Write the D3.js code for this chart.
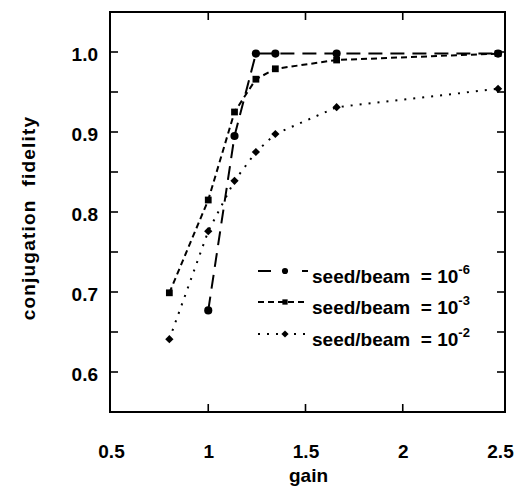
<!DOCTYPE html>
<html>
<head>
<meta charset="utf-8">
<script src="https://cdn.jsdelivr.net/npm/d3@7"></script>
<style>
  html, body { margin: 0; padding: 0; background: #fff; }
  svg { display: block; }
  text { font-family: "Liberation Sans", Arial, Helvetica, sans-serif; font-weight: bold; fill: #000; }
</style>
</head>
<body>
<svg id="chart" width="531" height="489"></svg>
<script>
// ---- data ----
const gain6 = [1.0, 1.135, 1.245, 1.345, 1.66, 2.49];
const fid6  = [0.677, 0.895, 0.998, 0.998, 0.998, 0.998];

const gain3 = [0.8, 1.0, 1.135, 1.245, 1.345, 1.66, 2.49];
const fid3  = [0.699, 0.815, 0.925, 0.966, 0.979, 0.99, 0.998];

const gain2 = [0.8, 1.0, 1.135, 1.245, 1.345, 1.66, 2.49];
const fid2  = [0.641, 0.776, 0.839, 0.875, 0.8975, 0.931, 0.954];

const xTicks = [0.5, 1, 1.5, 2, 2.5];
const xTickLabels = ["0.5", "1", "1.5", "2", "2.5"];
const yTicks = [0.6, 0.7, 0.8, 0.9, 1.0];
const yTickLabels = ["0.6", "0.7", "0.8", "0.9", "1.0"];
const yMinorTicks = [0.6, 0.65, 0.7, 0.75, 0.8, 0.85, 0.9, 0.95, 1.0];
const xInnerTicks = [1, 1.5, 2];
const legendLabels = ["seed/beam  = 10", "seed/beam  = 10", "seed/beam  = 10"];
const legendExps = ["-6", "-3", "-2"];
const xLabel = "gain";
const yLabel = "conjugation  fidelity";

// ---- layout ----
const svg = d3.select("#chart");
const frame = {left: 110, right: 505, top: 12, bottom: 412};
const x = d3.scaleLinear().domain([0.5, 2.5]).range([111, 500]);
const y = d3.scaleLinear().domain([0.55, 1.05]).range([frame.bottom, frame.top]);

// frame
svg.append("rect")
  .attr("x", frame.left).attr("y", frame.top)
  .attr("width", frame.right - frame.left).attr("height", frame.bottom - frame.top)
  .attr("fill", "none").attr("stroke", "#000").attr("stroke-width", 2);

const tl = 8;
const tg = svg.append("g").attr("stroke", "#000").attr("stroke-width", 1.6);
yMinorTicks.forEach(v => {
  tg.append("line").attr("x1", frame.left).attr("x2", frame.left + tl).attr("y1", y(v)).attr("y2", y(v));
  tg.append("line").attr("x1", frame.right).attr("x2", frame.right - tl).attr("y1", y(v)).attr("y2", y(v));
});
xInnerTicks.forEach(v => {
  tg.append("line").attr("x1", x(v)).attr("x2", x(v)).attr("y1", frame.bottom).attr("y2", frame.bottom - tl);
  tg.append("line").attr("x1", x(v)).attr("x2", x(v)).attr("y1", frame.top).attr("y2", frame.top + tl);
});

const xAxis = d3.axisBottom(x).tickValues(xTicks).tickFormat((d, i) => xTickLabels[i]).tickSize(0).tickPadding(0);
const gx = svg.append("g").attr("transform", `translate(0,${frame.bottom})`).call(xAxis);
gx.select(".domain").remove();
gx.selectAll("text").attr("font-size", 19).attr("font-family", null).attr("dy", null).attr("y", 46);

const yAxis = d3.axisLeft(y).tickValues(yTicks).tickFormat((d, i) => yTickLabels[i]).tickSize(0).tickPadding(0);
const gy = svg.append("g").attr("transform", `translate(${frame.left},0)`).call(yAxis);
gy.select(".domain").remove();
gy.selectAll("text").attr("font-size", 19).attr("font-family", null).attr("x", -12).attr("dy", "0.45em");

svg.append("text").attr("x", x(1.5) + 3).attr("y", 482).attr("text-anchor", "middle")
  .attr("font-size", 19).text(xLabel);
svg.append("text").attr("transform", "translate(35,218) rotate(-90)").attr("text-anchor", "middle")
  .attr("font-size", 19).attr("letter-spacing", 1.2).style("white-space", "pre").text(yLabel);

// series
const diamond = {draw(ctx, size) { const r = Math.sqrt(size / 2); ctx.moveTo(0, -r); ctx.lineTo(r, 0); ctx.lineTo(0, r); ctx.lineTo(-r, 0); ctx.closePath(); }};
const series = [
  {gx: gain6, fy: fid6, dash: "14,8", legDash: "13,31,6", sym: d3.symbolCircle, size: 52, lsize: 30},
  {gx: gain3, fy: fid3, dash: "6,4", legDash: "6,4", sym: d3.symbolSquare, size: 46, lsize: 28},
  {gx: gain2, fy: fid2, dash: "2,7", legDash: "2,7", sym: diamond, size: 34, lsize: 26}
];
const line = d3.line().x(d => x(d[0])).y(d => y(d[1]));
series.forEach(s => {
  const pts = s.gx.map((g, i) => [g, s.fy[i]]);
  svg.append("path").attr("d", line(pts)).attr("fill", "none").attr("stroke", "#000")
    .attr("stroke-width", 2).attr("stroke-dasharray", s.dash);
  svg.selectAll(null).data(pts).enter().append("path")
    .attr("transform", d => `translate(${x(d[0])},${y(d[1])})`)
    .attr("d", d3.symbol().type(s.sym).size(s.size)).attr("fill", "#000");
});

// legend
const legBase = [283, 314, 346];
series.forEach((s, i) => {
  const yy = legBase[i] - 12;
  svg.append("line").attr("x1", 258).attr("x2", 308).attr("y1", yy).attr("y2", yy)
    .attr("stroke", "#000").attr("stroke-width", 2).attr("stroke-dasharray", s.legDash);
  svg.append("path").attr("transform", `translate(285,${yy})`)
    .attr("d", d3.symbol().type(s.sym).size(s.lsize)).attr("fill", "#000");
  const t = svg.append("text").attr("x", 312).attr("y", legBase[i]).attr("font-size", 19).style("white-space", "pre");
  t.append("tspan").text(legendLabels[i]);
  t.append("tspan").attr("dy", -9).attr("font-size", 13).text(legendExps[i]);
});
</script>
</body>
</html>
